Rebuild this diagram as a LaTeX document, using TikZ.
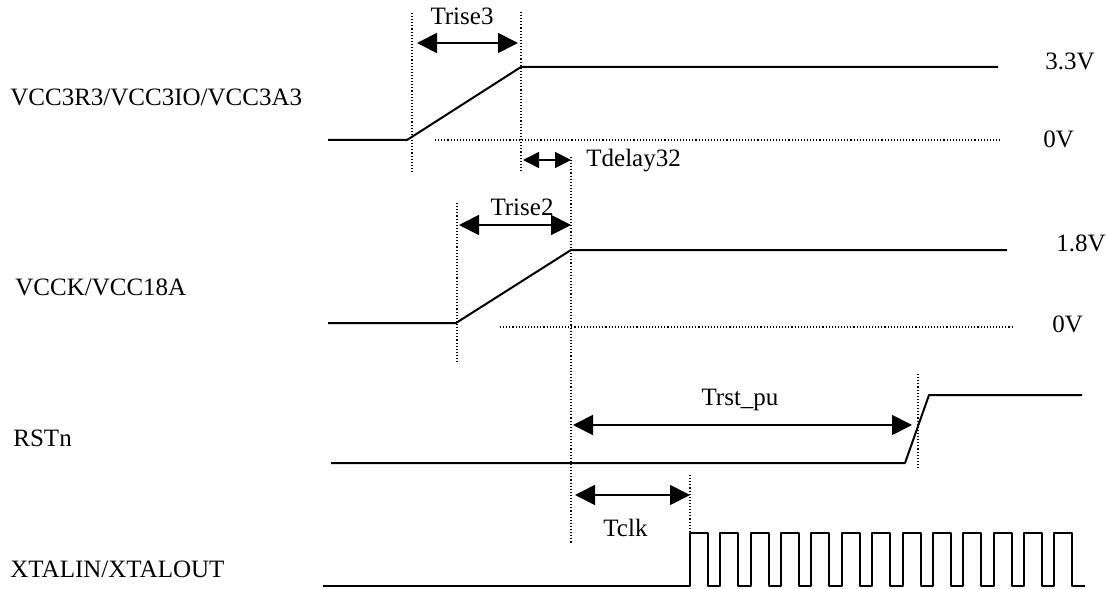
\documentclass[tikz,border=0pt]{standalone}
\usepackage{fontspec}
\setmainfont{Liberation Serif}
\usetikzlibrary{arrows.meta}

\begin{document}
\begin{tikzpicture}[
		x=0.5pt, y=-0.5pt,
		>={Triangle[length=10pt, width=10pt]},
		wave/.style={line width=1pt, line join=round},
		guide/.style={line width=0.55pt, dash pattern=on 0.55pt off 1pt},
		span/.style={<->, line width=0.9pt},
		short_span/.style={{Triangle[length=8pt, width=8pt]}-{Triangle[length=8pt, width=8pt]}, line width=0.9pt},
		txt/.style={inner sep=0pt, font=\fontsize{12.5pt}{15pt}\selectfont},
		sig_name/.style={txt, anchor=west}
		]
		
		\useasboundingbox (0,0) rectangle (1106,588);
		
		% Signal names (left column)
		\node[sig_name] (n_vcc3) at (10,97) {VCC3R3/VCC3IO/VCC3A3};
		\node[sig_name] (n_vcck) at (15,287) {VCCK/VCC18A};
		\node[sig_name] (n_rst) at (13,438) {RSTn};
		\node[sig_name] (n_xtal) at (10,569) {XTALIN/XTALOUT};
		
		% Levels (right column)
		\node[sig_name] (v33) at (1045,61) {3.3V};
		\node[sig_name] (v0a) at (1043,139) {0V};
		\node[sig_name] (v18) at (1056,243) {1.8V};
		\node[sig_name] (v0b) at (1052,324) {0V};
		
		% Waveforms
		\draw[wave] (328,140) -- (407,140) -- (521,67) -- (998,67);
		\draw[guide] (435,140) -- (1001,140);
		\draw[wave] (328,323) -- (456,323) -- (571,250) -- (1007,250);
		\draw[guide] (500,327) -- (1012,327);
		\draw[wave] (331,463) -- (905,463) -- (929,395) -- (1082,395);
		\draw[wave] (323,586) -- (690,586)
			\foreach \i in {0,...,12}{
				-- ({690+30.36*\i},533) -- ({708+30.36*\i},533) -- ({708+30.36*\i},586)
				\ifnum\i<12 -- ({720.36+30.36*\i},586) \fi
			} -- (1085,586);
		
		% Guide lines
		\draw[guide] (412,13) -- (412,173);
		\draw[guide] (521,12) -- (521,172);
		\draw[guide] (457,203) -- (457,363);
		\draw[guide] (571,157) -- (571,543);
		\draw[guide] (918,374) -- (918,470);
		\draw[guide] (690,475) -- (690,533);
		
		% Span ends
		\coordinate (r3a) at (417,43);
		\coordinate (r3b) at (518,43);
		\coordinate (dla) at (523,160);
		\coordinate (dlb) at (571,160);
		\coordinate (r2a) at (459,225);
		\coordinate (r2b) at (571,225);
		\coordinate (rpa) at (573,425);
		\coordinate (rpb) at (912,425);
		\coordinate (cka) at (575,495);
		\coordinate (ckb) at (690,495);
		
		% Spans and their names
		\draw[span] (r3a) -- (r3b);
		\node[txt] (t_r3) at (462,16) {Trise3};
		\draw[short_span] (dla) -- (dlb);
		\node[sig_name] (t_dl) at (586,161) {Tdelay32};
		\draw[span] (r2a) -- (r2b);
		\node[txt] (t_r2) at (522,207) {Trise2};
		\draw[span] (rpa) -- (rpb);
		\node[txt] (t_rp) at (740,400) {Trst\_pu};
		\draw[span] (cka) -- (ckb);
		\node[sig_name] (t_ck) at (603,528) {Tclk};
		
	\end{tikzpicture}
\end{document}
